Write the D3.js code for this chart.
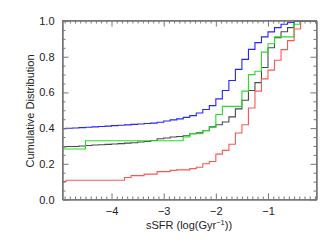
<!DOCTYPE html>
<html><head><meta charset="utf-8">
<script src="https://cdn.jsdelivr.net/npm/d3@7"></script>
<style>html,body{margin:0;padding:0;background:#fff;}svg{display:block;}</style>
</head><body>
<script>
// bin starts (log sSFR), each value holds until the next bin start
const binStart = [-5.0,-4.875,-4.75,-4.625,-4.5,-4.375,-4.25,-4.125,-4.0,-3.875,-3.75,-3.625,-3.5,-3.375,-3.25,-3.125,-3.0,-2.875,-2.75,-2.625,-2.5,-2.375,-2.25,-2.125,-2.0,-1.875,-1.75,-1.625,-1.5,-1.375,-1.25,-1.125,-1.0,-0.875,-0.75,-0.625,-0.5,-0.375,-0.25,-0.125,0.0];
const blueCDF  = [0.397,0.399,0.401,0.403,0.405,0.407,0.409,0.411,0.414,0.416,0.418,0.421,0.423,0.426,0.428,0.433,0.440,0.446,0.452,0.460,0.470,0.485,0.504,0.526,0.564,0.611,0.667,0.729,0.785,0.841,0.879,0.911,0.939,0.963,0.982,0.992,0.998,1.0,1.0,1.0,1.0];
const blackCDF = [0.294,0.297,0.297,0.300,0.303,0.305,0.307,0.309,0.311,0.313,0.316,0.318,0.322,0.325,0.331,0.340,0.345,0.350,0.353,0.357,0.369,0.374,0.385,0.408,0.419,0.434,0.463,0.508,0.556,0.611,0.655,0.740,0.850,0.907,0.940,0.963,1.0,1.0,1.0,1.0,1.0];
const greenCDF = [0.283,0.283,0.283,0.283,0.329,0.329,0.329,0.329,0.329,0.329,0.329,0.329,0.329,0.329,0.329,0.329,0.329,0.329,0.329,0.350,0.369,0.369,0.387,0.404,0.476,0.522,0.522,0.522,0.607,0.700,0.719,0.826,0.873,0.911,0.911,0.911,0.982,1.0,1.0,1.0,1.0];
const redCDF   = [0.100,0.108,0.108,0.108,0.108,0.108,0.108,0.108,0.108,0.108,0.123,0.134,0.134,0.142,0.142,0.156,0.156,0.163,0.166,0.166,0.173,0.181,0.200,0.213,0.254,0.275,0.310,0.373,0.419,0.513,0.607,0.676,0.725,0.780,0.840,0.890,0.955,1.0,1.0,1.0,1.0];
const xTicks = [-4,-3,-2,-1];
const yTicks = [0.0,0.2,0.4,0.6,0.8,1.0];
const xMinorTicks = [-4.9,-4.8,-4.7,-4.6,-4.5,-4.4,-4.3,-4.2,-4.1,-3.9,-3.8,-3.7,-3.6,-3.5,-3.4,-3.3,-3.2,-3.1,-2.9,-2.8,-2.7,-2.6,-2.5,-2.4,-2.3,-2.2,-2.1,-1.9,-1.8,-1.7,-1.6,-1.5,-1.4,-1.3,-1.2,-1.1,-0.9,-0.8,-0.7,-0.6,-0.5,-0.4,-0.3,-0.2,-0.1];
const yMinorTicks = [0.05,0.1,0.15,0.25,0.3,0.35,0.45,0.5,0.55,0.65,0.7,0.75,0.85,0.9,0.95];
const series = [
  {name:"black", values:blackCDF, color:"#4a4a4a"},
  {name:"green", values:greenCDF, color:"#22e022"},
  {name:"red",   values:redCDF,   color:"#ff5555"},
  {name:"blue",  values:blueCDF,  color:"#2424ff"}
];

const W = 336, H = 240;
const L = 62.5, R = 316.5, T = 20.5, B = 199.5;
const x = d3.scaleLinear().domain([-4.94, -0.07]).range([L, R]);
const y = d3.scaleLinear().domain([0, 1.003]).range([B, T]);
const font = "'Liberation Sans', Arial, sans-serif";
const axisCol = "#777";

const svg = d3.select("body").append("svg").attr("width", W).attr("height", H);

svg.append("clipPath").attr("id","clip").append("rect")
  .attr("x", L).attr("y", T - 1).attr("width", R - L).attr("height", B - T + 1);

const line = d3.line().curve(d3.curveStepAfter)
  .x(d => x(d[0])).y(d => y(d[1]));

const g = svg.append("g").attr("clip-path","url(#clip)");
series.forEach(s => {
  const pts = binStart.map((b,i) => [b, s.values[i]]);
  g.append("path").attr("d", line(pts)).attr("fill","none")
    .attr("stroke", s.color).attr("stroke-width", 1.1);
});

function styleAxis(sel, showLabels){
  sel.select(".domain").attr("stroke", axisCol);
  sel.selectAll(".tick line").attr("stroke", axisCol);
  sel.selectAll(".tick text").attr("fill", "#222").style("font-family", font).style("font-size","11px");
  if(!showLabels) sel.selectAll(".tick text").remove();
}

// bottom
styleAxis(svg.append("g").attr("transform",`translate(0,${B})`)
  .call(d3.axisBottom(x).tickValues(xTicks).tickSize(-6).tickSizeOuter(0).tickPadding(8).tickFormat(d3.format("d"))), true);
styleAxis(svg.append("g").attr("transform",`translate(0,${B})`)
  .call(d3.axisBottom(x).tickValues(xMinorTicks).tickSize(-3).tickSizeOuter(0)), false);
// top
styleAxis(svg.append("g").attr("transform",`translate(0,${T})`)
  .call(d3.axisTop(x).tickValues(xTicks).tickSize(-6).tickSizeOuter(0)), false);
styleAxis(svg.append("g").attr("transform",`translate(0,${T})`)
  .call(d3.axisTop(x).tickValues(xMinorTicks).tickSize(-3).tickSizeOuter(0)), false);
// left
styleAxis(svg.append("g").attr("transform",`translate(${L},0)`)
  .call(d3.axisLeft(y).tickValues(yTicks).tickSize(-6).tickSizeOuter(0).tickPadding(8).tickFormat(d3.format(".1f"))), true);
styleAxis(svg.append("g").attr("transform",`translate(${L},0)`)
  .call(d3.axisLeft(y).tickValues(yMinorTicks).tickSize(-3).tickSizeOuter(0)), false);
// right
styleAxis(svg.append("g").attr("transform",`translate(${R},0)`)
  .call(d3.axisRight(y).tickValues(yTicks).tickSize(-6).tickSizeOuter(0)), false);
styleAxis(svg.append("g").attr("transform",`translate(${R},0)`)
  .call(d3.axisRight(y).tickValues(yMinorTicks).tickSize(-3).tickSizeOuter(0)), false);

// frame
svg.append("rect").attr("x", L).attr("y", T).attr("width", R - L).attr("height", B - T)
  .attr("fill","none").attr("stroke", axisCol);

// axis titles
const xt = svg.append("text").attr("x", 189).attr("y", 229).attr("text-anchor","middle")
  .attr("fill","#222").style("font-family", font).style("font-size","11px");
xt.append("tspan").text("sSFR (log(Gyr");
xt.append("tspan").attr("dy", -4).style("font-size","7.5px").text("\u22121");
xt.append("tspan").attr("dy", 4).text("))");

svg.append("text").attr("transform","translate(34,111) rotate(-90)").attr("text-anchor","middle")
  .attr("fill","#222").style("font-family", font).style("font-size","11px")
  .text("Cumulative Distribution");
</script>
</body></html>
